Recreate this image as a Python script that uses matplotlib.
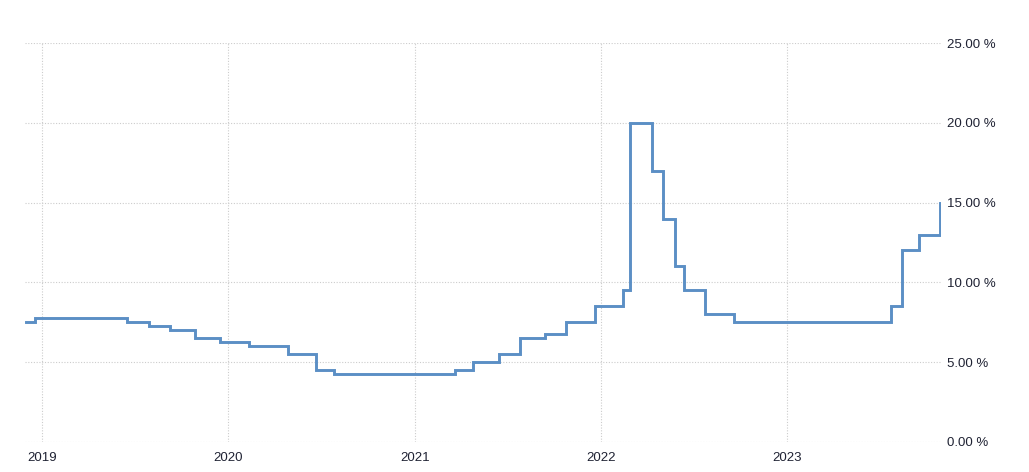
import matplotlib
matplotlib.use("Agg")
import matplotlib.pyplot as plt
import pandas as pd

dates = ["2018-11-30", "2018-12-17", "2019-06-17", "2019-07-29", "2019-09-09",
         "2019-10-28", "2019-12-16", "2020-02-10", "2020-04-27", "2020-06-22",
         "2020-07-27", "2021-03-22", "2021-04-26", "2021-06-15", "2021-07-26",
         "2021-09-13", "2021-10-25", "2021-12-20", "2022-02-14", "2022-02-28",
         "2022-04-11", "2022-05-04", "2022-05-27", "2022-06-14", "2022-07-25",
         "2022-09-19", "2023-07-24", "2023-08-15", "2023-09-18", "2023-10-30"]
rates = [7.5, 7.75, 7.5, 7.25, 7.0,
         6.5, 6.25, 6.0, 5.5, 4.5,
         4.25, 4.5, 5.0, 5.5, 6.5,
         6.75, 7.5, 8.5, 9.5, 20.0,
         17.0, 14.0, 11.0, 9.5, 8.0,
         7.5, 8.5, 12.0, 13.0, 15.0]
year_ticks = ["2019", "2020", "2021", "2022", "2023"]
y_ticks = [0, 5, 10, 15, 20, 25]

plt.rcParams["font.family"] = ["Liberation Sans", "DejaVu Sans"]

x = pd.to_datetime(dates)

fig = plt.figure(figsize=(10.29, 4.72), dpi=100)
ax = fig.add_axes([25/1029, 1 - 442/472, (941 - 25)/1029, (442 - 43)/472])
ax.plot(x, rates, drawstyle="steps-post", color="#5b8fc5", lw=2.1,
        solid_joinstyle="miter")

ax.set_xlim(pd.Timestamp("2018-11-28"), pd.Timestamp("2023-10-31"))
ax.set_ylim(0, 25)
ax.set_xticks(pd.to_datetime([f"{y}-01-01" for y in year_ticks]))
ax.set_xticklabels(year_ticks)
ax.set_yticks(y_ticks)
ax.set_yticklabels([f"{v:.2f} %" for v in y_ticks])
ax.yaxis.tick_right()
ax.tick_params(axis="both", length=0, labelsize=9.5, colors="#1f2233")
ax.tick_params(axis="y", pad=4)
ax.tick_params(axis="x", pad=7)
for s in ax.spines.values():
    s.set_visible(False)
ax.grid(True, color="#cccccc", linestyle=(0, (1, 1.5)), linewidth=0.8)
ax.set_axisbelow(True)

fig.savefig("out.png", dpi=100)
